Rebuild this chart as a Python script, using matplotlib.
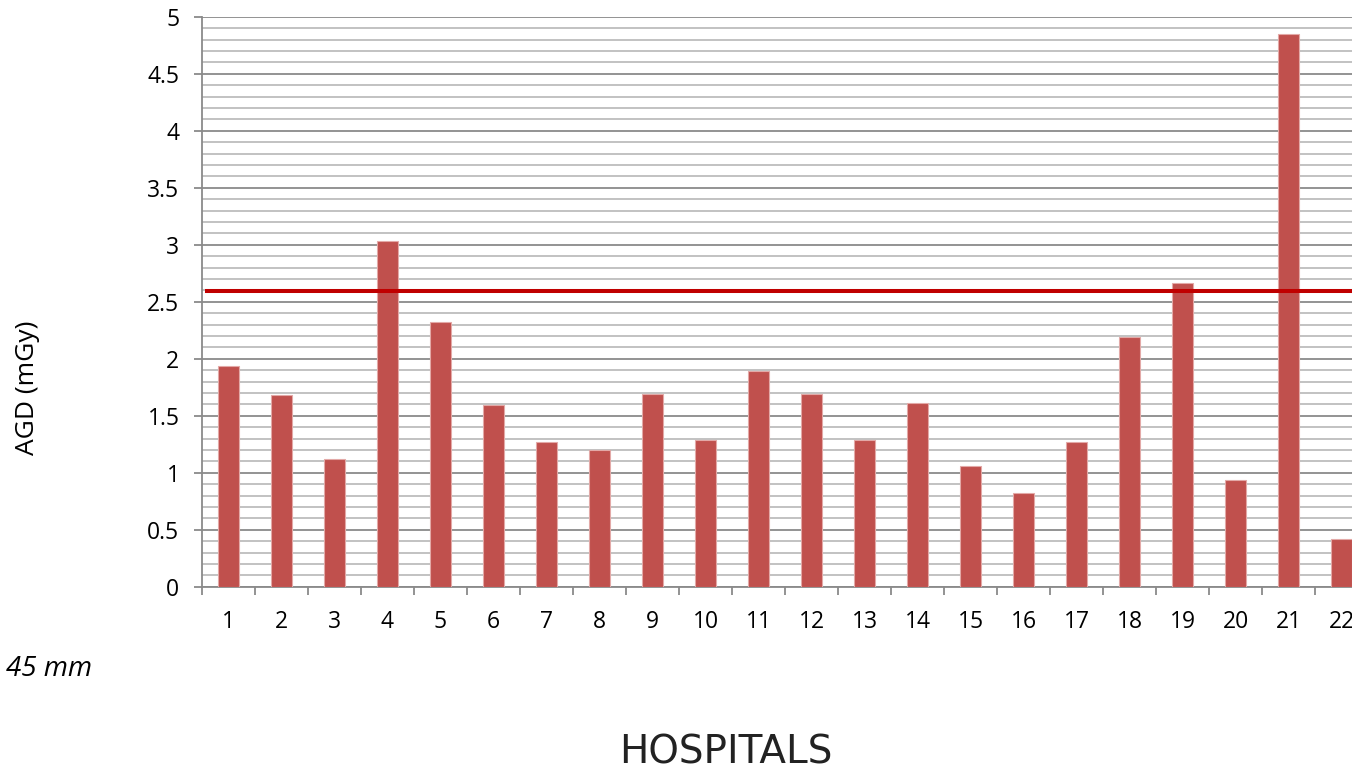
import numpy as np
import matplotlib
matplotlib.use("Agg")
import matplotlib.pyplot as plt
from matplotlib.ticker import MultipleLocator

# average glandular dose per hospital, 45 mm breast thickness
hospitals = [str(i) for i in range(1, 23)]
agd = [1.94, 1.68, 1.12, 3.03, 2.32, 1.59, 1.27, 1.20, 1.69, 1.29, 1.89,
       1.69, 1.29, 1.61, 1.06, 0.82, 1.27, 2.19, 2.66, 0.94, 4.85, 0.42]
reference_level = 2.59

plt.rcParams['font.family'] = ['Open Sans', 'DejaVu Sans']

fig = plt.figure(figsize=(13.52, 7.7), dpi=100)
# axes run a bit past the right border (last bar is cut)
ax = fig.add_axes([0.1492, 0.238, 0.8629, 0.7403])

x = np.arange(1, len(hospitals) + 1)
ax.bar(x, agd, width=0.4, color='#C0504D', edgecolor='#e3a9a7', linewidth=0.8, zorder=3)
ax.axhline(reference_level, xmin=0.0045, xmax=1, color='#C00000', linewidth=2.9, zorder=4)

ax.set_xlim(0.5, len(hospitals) + 0.5)
ax.set_ylim(0, 5)

# grid: darker every 0.5, lighter every 0.1
ax.yaxis.set_major_locator(MultipleLocator(0.5))
ax.yaxis.set_minor_locator(MultipleLocator(0.1))
ax.grid(which='major', axis='y', color='#8a8a8a', linewidth=1.3, zorder=1)
ax.grid(which='minor', axis='y', color='#bdbdbd', linewidth=1.3, zorder=1)
ax.set_yticks(np.arange(0, 5.01, 0.5))
ax.set_yticklabels(['0', '0.5', '1', '1.5', '2', '2.5', '3', '3.5', '4', '4.5', '5'])
ax.tick_params(axis='y', which='major', length=6, width=1.3, color='#8a8a8a',
               pad=10, labelsize=16.5)
ax.tick_params(axis='y', which='minor', length=0)

# category boundaries get the tick marks, labels sit at the centres
ax.set_xticks(np.arange(0.5, len(hospitals) + 1, 1))
ax.set_xticklabels([])
ax.set_xticks(x, minor=True)
ax.set_xticklabels(hospitals, minor=True)
ax.tick_params(axis='x', which='major', length=6, width=1.3, color='#8a8a8a')
ax.tick_params(axis='x', which='minor', length=0, pad=17, labelsize=16.5)

for s in ['top', 'right']:
    ax.spines[s].set_visible(False)
for s in ['left', 'bottom']:
    ax.spines[s].set_color('#8a8a8a')
    ax.spines[s].set_linewidth(1.3)

fig.text(28 / 1352, 1 - 388 / 770, 'AGD (mGy)', rotation=90, ha='center', va='center', fontsize=19)
fig.text(6 / 1352, 1 - 669 / 770, '45 mm', style='italic', ha='left', va='center', fontsize=20)
fig.text(726 / 1352, 1 - 752 / 770, 'HOSPITALS', ha='center', va='center', fontsize=28,
         family=['DejaVu Sans'], color='#222222')

fig.savefig('out.png', dpi=100)
